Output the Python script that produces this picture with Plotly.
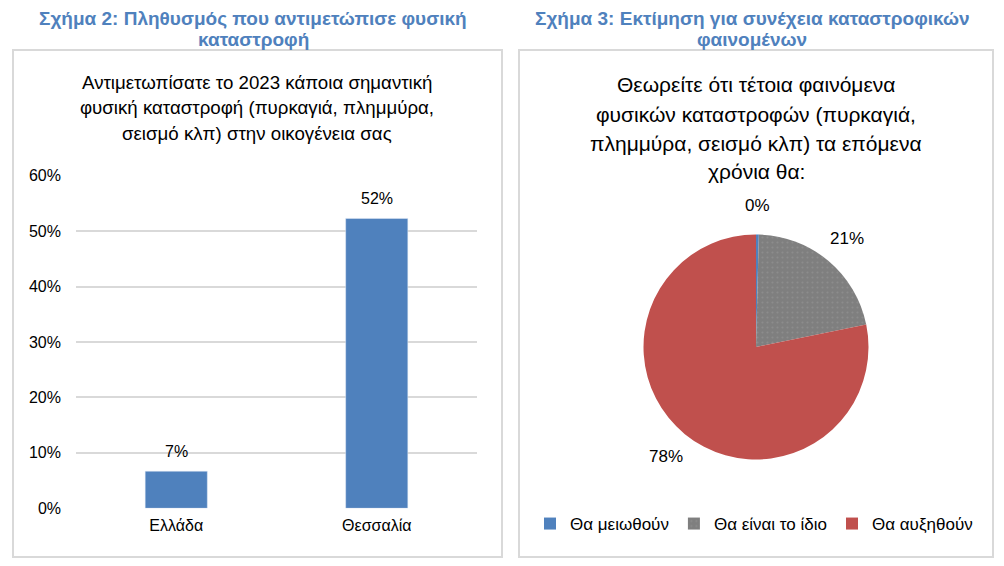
import math
import plotly.graph_objects as go

W, H = 1004, 566

# bar chart data (left panel)
regions = ["Ελλάδα", "Θεσσαλία"]
affected_share = [0.067, 0.523]

# pie chart data (right panel)
outlook_labels = ["Θα μειωθούν", "Θα είναι το ίδιο", "Θα αυξηθούν"]
outlook_share = [0.4, 21.4, 78.2]
outlook_colors = ["#4f81bd", "#7f7f7f", "#c0504d"]

caption_left = ["Σχήμα 2: Πληθυσμός που αντιμετώπισε φυσική", "καταστροφή"]
caption_right = ["Σχήμα 3: Εκτίμηση για συνέχεια καταστροφικών", "φαινομένων"]
title_left = ["Αντιμετωπίσατε το 2023 κάποια σημαντική",
              "φυσική καταστροφή (πυρκαγιά, πλημμύρα,",
              "σεισμό κλπ) στην οικογένεια σας"]
title_right = ["Θεωρείτε ότι τέτοια φαινόμενα",
               "φυσικών καταστροφών (πυρκαγιά,",
               "πλημμύρα, σεισμό κλπ) τα επόμενα",
               "χρόνια θα:"]

FONT = "Liberation Sans, Arial, sans-serif"
BLUE = "#4f81bd"
GRID = "#d9d9d9"
TXT = "#000000"

# pie placement in pixels
PIE_CX, PIE_CY, PIE_R = 756, 347, 112.5


def px(x):
    return x / W


def py(y):
    # pixel from top -> paper from bottom
    return 1 - y / H


fig = go.Figure()

fig.add_trace(go.Bar(
    x=regions,
    y=affected_share,
    marker_color=BLUE,
    width=0.31,
    showlegend=False,
    hoverinfo="skip",
))

# value labels sitting above the bars
for r, v in zip(regions, affected_share):
    fig.add_annotation(
        x=r, y=v, xref="x", yref="y", text=f"{v:.0%}",
        showarrow=False, yanchor="middle", yshift=20,
        font=dict(size=16, color=TXT),
    )

fig.add_trace(go.Pie(
    labels=outlook_labels,
    values=outlook_share,
    marker=dict(
        colors=outlook_colors,
        # faint dot texture on the grey slice, as in the original
        pattern=dict(shape=["", ".", ""], fgcolor="#8c8c8c",
                     bgcolor=outlook_colors, size=5, solidity=0.15),
    ),
    sort=False,
    direction="clockwise",
    rotation=0,
    textinfo="none",
    domain=dict(x=[px(PIE_CX - PIE_R), px(PIE_CX + PIE_R)],
                y=[py(PIE_CY + PIE_R), py(PIE_CY - PIE_R)]),
    hoverinfo="skip",
))

# pie percentage labels outside the slices, at each slice's mid angle
total = sum(outlook_share)
acc = 0
for v in outlook_share:
    mid = (acc + v / 2) / total * 2 * math.pi
    acc += v
    d = PIE_R * 1.26
    lx = PIE_CX + d * math.sin(mid)
    ly = PIE_CY - d * math.cos(mid)
    fig.add_annotation(
        x=px(lx), y=py(ly), xref="paper", yref="paper",
        text=f"{v / total:.0%}", showarrow=False,
        xanchor="center", yanchor="middle",
        font=dict(size=17, color=TXT),
    )

fig.update_layout(
    width=W, height=H,
    margin=dict(l=0, r=0, t=0, b=0, autoexpand=False),
    paper_bgcolor="white",
    plot_bgcolor="white",
    font=dict(family=FONT, color=TXT),
    xaxis=dict(
        domain=[px(76), px(477)],
        showgrid=False, zeroline=False, showline=False,
        ticks="", ticklabelstandoff=6,
        tickfont=dict(size=16, color=TXT),
        fixedrange=True, automargin=False,
    ),
    yaxis=dict(
        domain=[py(508.3), py(175.7)],
        range=[0, 0.6], dtick=0.1, tickformat=".0%",
        showgrid=True, gridcolor=GRID, gridwidth=2,
        zeroline=False, showline=False, ticks="",
        ticklabelstandoff=14,
        tickfont=dict(size=16, color=TXT),
        fixedrange=True, automargin=False,
    ),
    legend=dict(
        orientation="h",
        x=px(754), xanchor="center",
        y=py(524), yanchor="middle",
        font=dict(size=17, color=TXT),
        itemwidth=30,
        traceorder="normal",
    ),
)

# panel frames
for x0, x1 in [(13, 502), (519, 993)]:
    fig.add_shape(
        type="rect", xref="paper", yref="paper",
        x0=px(x0), x1=px(x1), y0=py(557), y1=py(50),
        line=dict(color=GRID, width=2),
    )


def add_lines(lines, cx, y0, step, size, color, bold=False):
    for i, line in enumerate(lines):
        fig.add_annotation(
            text=f"<b>{line}</b>" if bold else line,
            xref="paper", yref="paper",
            x=px(cx), y=py(y0 + i * step),
            xanchor="center", yanchor="middle", showarrow=False,
            font=dict(size=size, color=color, family=FONT),
        )


add_lines(caption_left, 253, 18, 21, 19, BLUE, bold=True)
add_lines(caption_right, 752, 18, 21, 19, BLUE, bold=True)
add_lines(title_left, 257, 82, 25.5, 18.7, TXT)
add_lines(title_right, 756, 85, 29, 21, TXT)

fig.write_html(
    "out.html",
    config={"displayModeBar": False},
    post_script="document.body.style.margin='0';",
)
